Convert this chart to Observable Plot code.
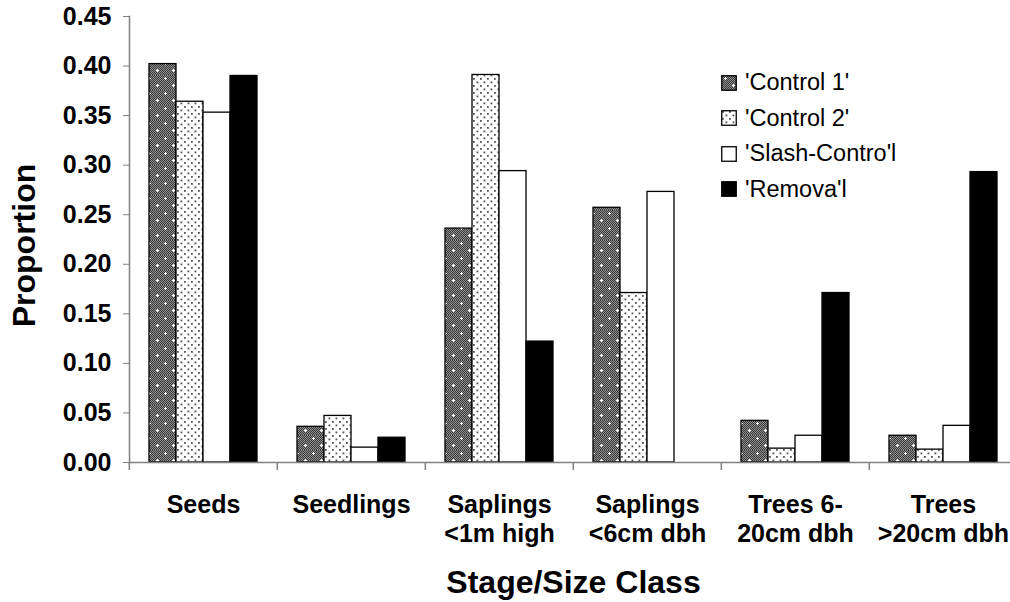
<!DOCTYPE html>
<html>
<head>
<meta charset="utf-8">
<script src="https://cdn.jsdelivr.net/npm/d3@7"></script>
<script src="https://cdn.jsdelivr.net/npm/@observablehq/plot@0.6"></script>
<style>
  html, body { margin: 0; padding: 0; background: white; overflow: hidden; }
  #wrap { position: relative; width: 1010px; height: 602px; overflow: hidden; font-family: "Liberation Sans", Arial, sans-serif; }
  #legend { position: absolute; left: 721px; top: 64.75px; }
  .row { display: flex; align-items: center; height: 35.5px; font-size: 23.5px; color: black; white-space: nowrap; }
  .row svg { display: block; }
  .row span { margin-left: 8px; }
</style>
</head>
<body>
<svg width="0" height="0" style="position:absolute">
  <defs>
    <pattern id="chk" width="2" height="2" patternUnits="userSpaceOnUse">
      <rect width="2" height="2" fill="#3a3a3a"/>
      <rect width="1" height="1" fill="#8e8e8e"/>
      <rect x="1" y="1" width="1" height="1" fill="#8e8e8e"/>
    </pattern>
    <pattern id="p1" width="16" height="15" patternUnits="userSpaceOnUse">
      <rect width="16" height="15" fill="url(#chk)"/>
      <rect x="3" y="3" width="3" height="1" fill="white"/>
      <rect x="4" y="2" width="1" height="3" fill="white"/>
      <rect x="11" y="10" width="3" height="1" fill="white"/>
      <rect x="12" y="9" width="1" height="3" fill="white"/>
    </pattern>
    <pattern id="p2" width="7" height="7" patternUnits="userSpaceOnUse">
      <rect width="7" height="7" fill="white"/>
      <rect x="1" y="1" width="1.8" height="1.8" fill="#555"/>
      <rect x="4.5" y="4.5" width="1.8" height="1.8" fill="#555"/>
    </pattern>
  </defs>
</svg>
<div id="wrap">
  <div id="chart"></div>
  <div id="legend"></div>
</div>
<script>
const categories = ["Seeds", "Seedlings", "Saplings\n<1m high", "Saplings\n<6cm dbh", "Trees 6-\n20cm dbh", "Trees\n>20cm dbh"];
const series = ["'Control 1'", "'Control 2'", "'Slash-Contro'l", "'Remova'l"];
const control1     = [0.402, 0.036, 0.236, 0.257, 0.042, 0.027];
const control2     = [0.364, 0.047, 0.391, 0.171, 0.014, 0.013];
const slashControl = [0.353, 0.015, 0.294, 0.273, 0.027, 0.037];
const removal      = [0.390, 0.025, 0.122, 0.000, 0.171, 0.293];
const yTicks = [0, 0.05, 0.10, 0.15, 0.20, 0.25, 0.30, 0.35, 0.40, 0.45];
const fills = ["url(#p1)", "url(#p2)", "white", "black"];

const valuesBySeries = [control1, control2, slashControl, removal];
const data = [];
categories.forEach((cat, i) => {
  series.forEach((s, j) => data.push({cat, series: s, value: valuesBySeries[j][i]}));
});

const W = 1018, ML = 128;
const step = (W - ML) / categories.length;
const font = "'Liberation Sans', Arial, sans-serif";

const chart = Plot.plot({
  width: W,
  height: 602,
  marginLeft: ML,
  marginRight: 0,
  marginTop: 16,
  marginBottom: 140,
  style: {fontFamily: font, maxWidth: "none", overflow: "visible", background: "white"},
  fx: {domain: categories, padding: 0},
  x: {domain: series, paddingInner: 0, paddingOuter: 0.74, axis: null},
  y: {domain: [0, 0.45]},
  color: {domain: series, range: fills},
  marks: [
    Plot.barY(data, {fx: "cat", x: "series", y: "value", fill: "series", stroke: "black", strokeWidth: 1.3}),
    Plot.ruleY([0], {stroke: "#808080", strokeWidth: 1.5}),
    Plot.frame({anchor: "left", facetAnchor: "left", stroke: "#808080", strokeWidth: 1.5}),
    Plot.axisY({ticks: yTicks, tickFormat: d3.format(".2f"), tickSize: 6, tickPadding: 12,
      fontSize: 25, fontWeight: "bold", stroke: "#808080", fill: "black", label: null}),
    Plot.axisFx({anchor: "bottom", tickSize: 0, tickPadding: 30, fontSize: 25, fontWeight: "bold",
      lineHeight: 1.16, fill: "black", label: null}),
    Plot.axisFx({anchor: "bottom", tickSize: 8, tickFormat: () => "", dx: -step / 2,
      stroke: "#808080", strokeWidth: 1.5, label: null}),
    Plot.text(["Proportion"], {text: d => d, frameAnchor: "left", facet: "super", rotate: -90,
      textAnchor: "middle", lineAnchor: "middle", dx: -105, dy: 6,
      fontSize: 32, fontWeight: "bold", fill: "black"}),
    Plot.text(["Stage/Size Class"], {text: d => d, frameAnchor: "bottom", facet: "super",
      lineAnchor: "top", dy: 108, fontSize: 32, fontWeight: "bold", fill: "black"})
  ]
});
document.getElementById("chart").appendChild(chart);

const legend = d3.select("#legend");
series.forEach((s, j) => {
  const row = legend.append("div").attr("class", "row");
  const sw = row.append("svg").attr("width", 16).attr("height", 16);
  sw.append("rect").attr("x", 0.75).attr("y", 0.75).attr("width", 14.5).attr("height", 14.5)
    .attr("fill", fills[j]).attr("stroke", "black").attr("stroke-width", 1.3);
  row.append("span").text(s);
});
</script>
</body>
</html>
